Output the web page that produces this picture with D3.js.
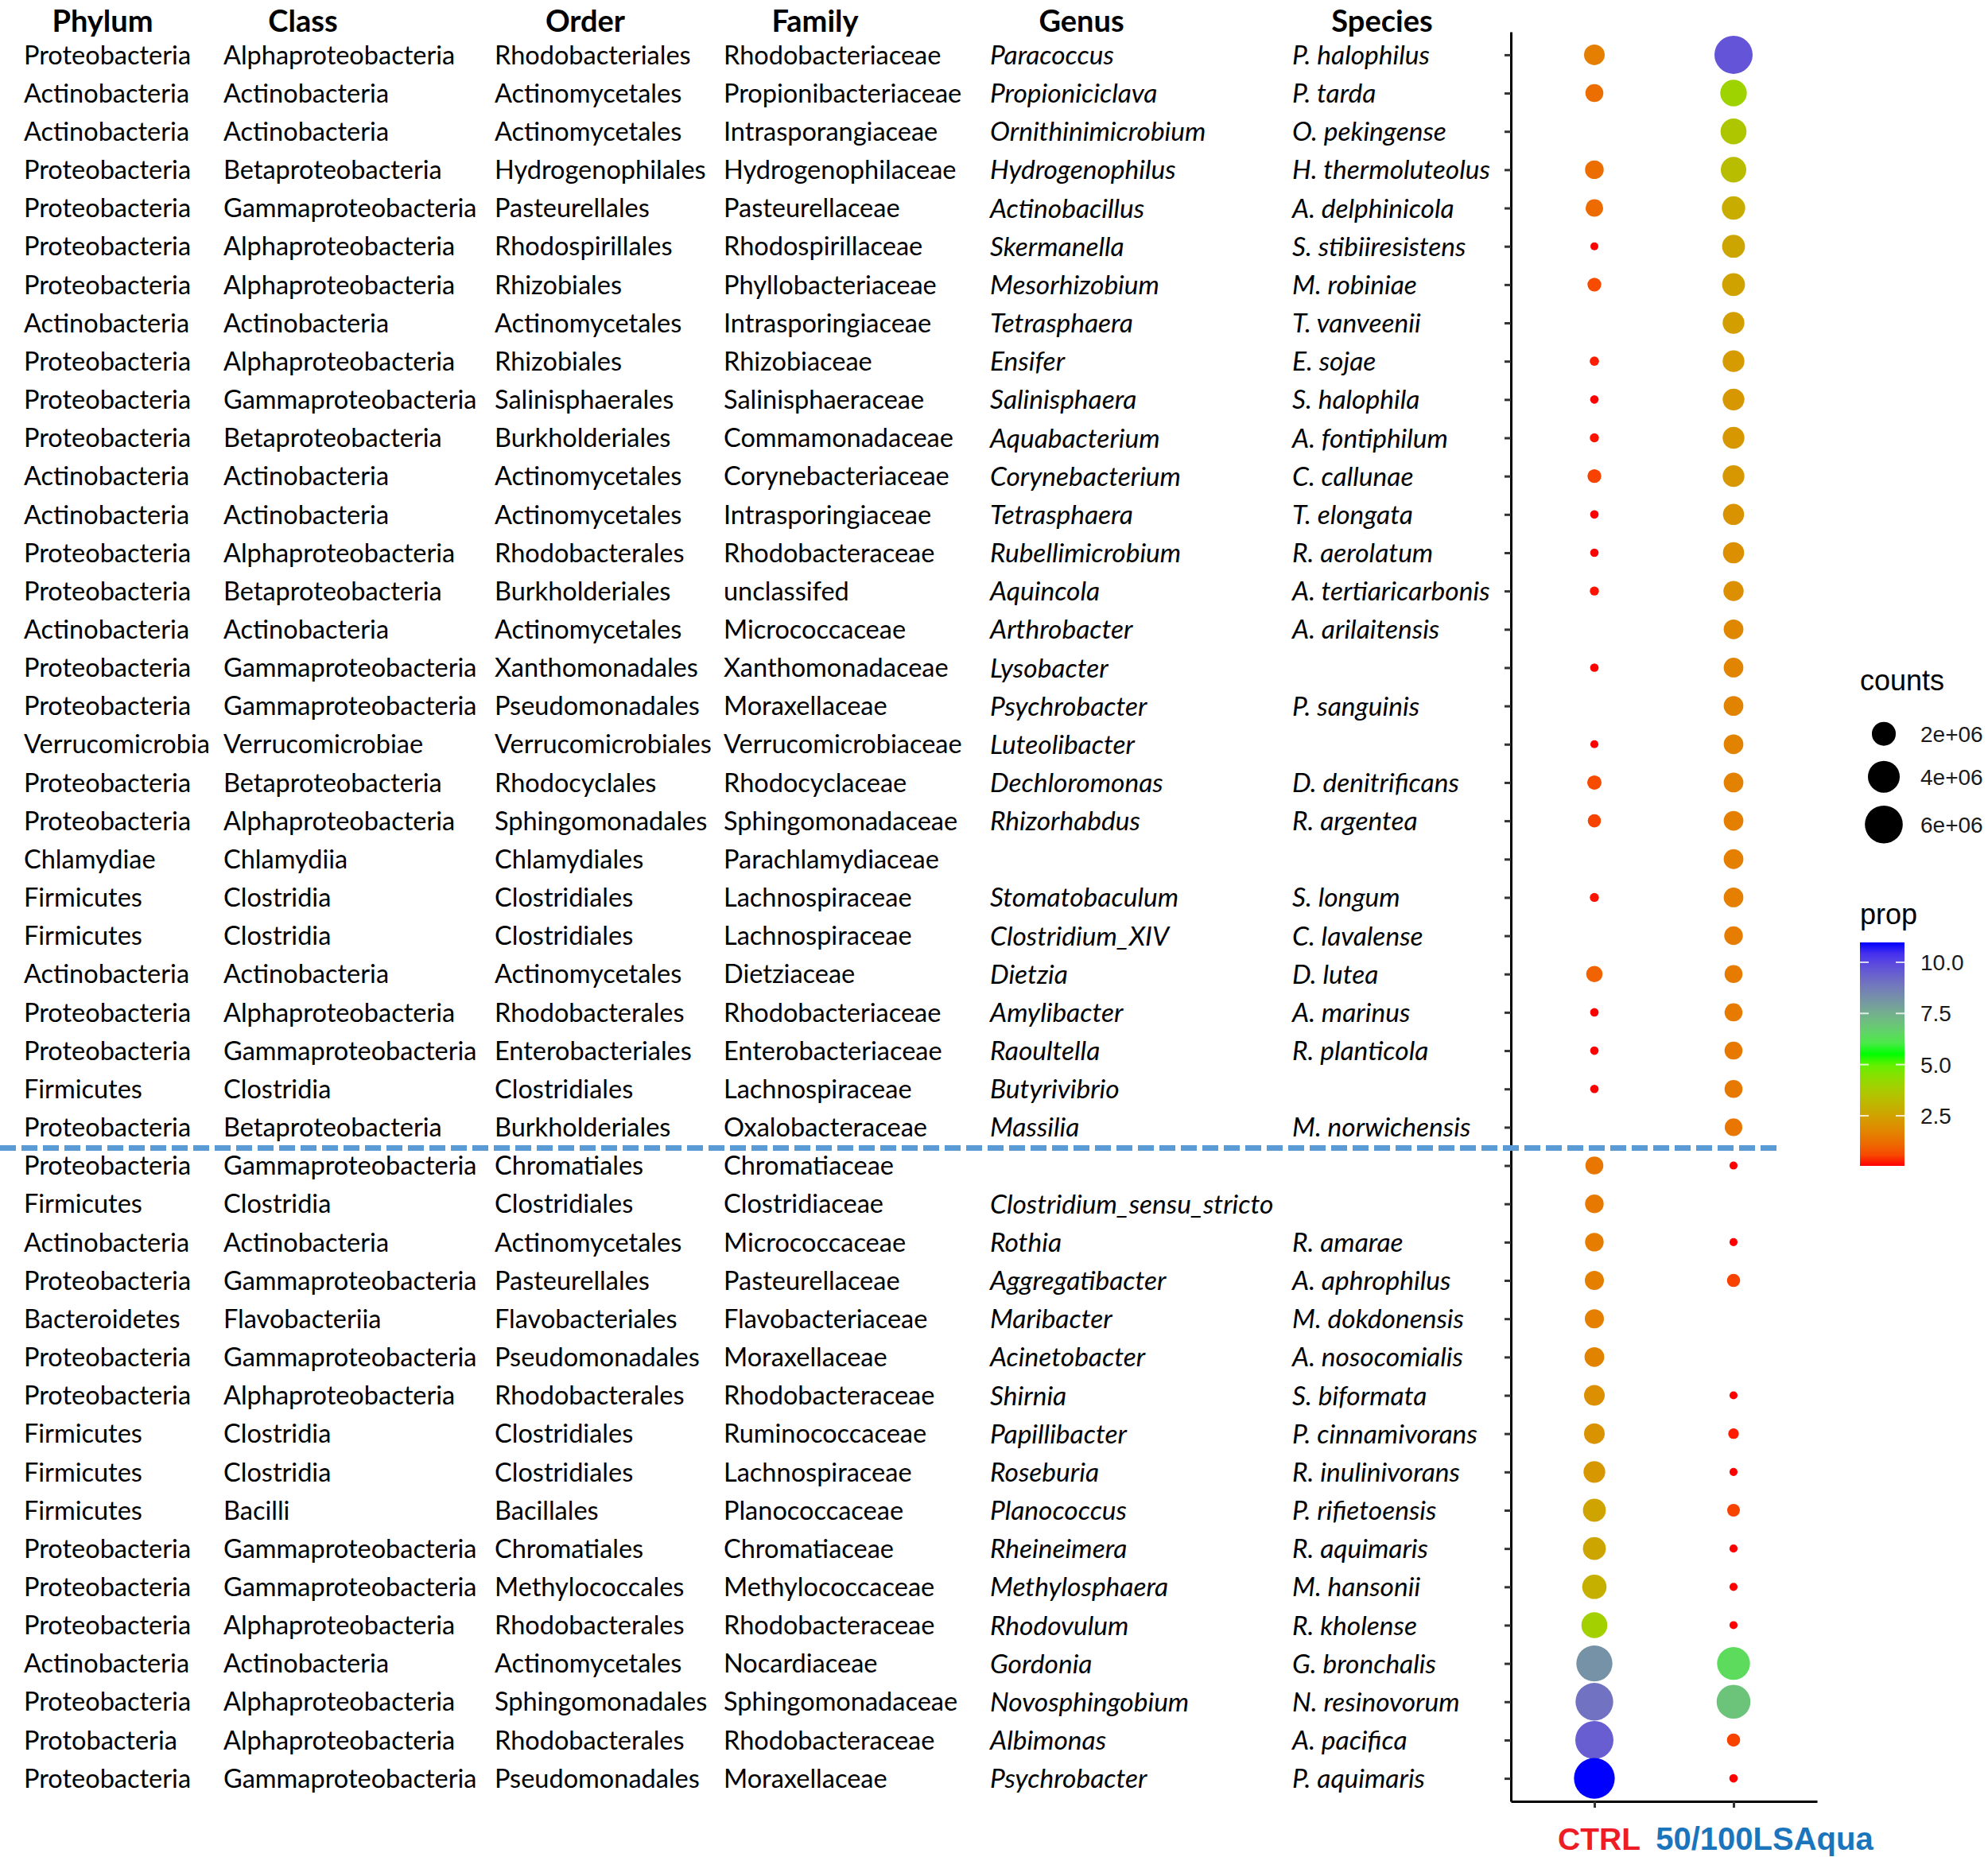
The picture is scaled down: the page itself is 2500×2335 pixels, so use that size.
<!DOCTYPE html>
<html><head><meta charset="utf-8">
<script src="https://cdn.jsdelivr.net/npm/d3@7"></script>
<style>body{margin:0;background:#fff} svg{display:block}</style>
</head><body><svg id="chart" width="2500" height="2335"></svg>
<script>
const headers = ["Phylum","Class","Order","Family","Genus","Species"];
const phylum = ["Proteobacteria","Actinobacteria","Actinobacteria","Proteobacteria","Proteobacteria","Proteobacteria","Proteobacteria","Actinobacteria","Proteobacteria","Proteobacteria","Proteobacteria","Actinobacteria","Actinobacteria","Proteobacteria","Proteobacteria","Actinobacteria","Proteobacteria","Proteobacteria","Verrucomicrobia","Proteobacteria","Proteobacteria","Chlamydiae","Firmicutes","Firmicutes","Actinobacteria","Proteobacteria","Proteobacteria","Firmicutes","Proteobacteria",
"Proteobacteria","Firmicutes","Actinobacteria","Proteobacteria","Bacteroidetes","Proteobacteria","Proteobacteria","Firmicutes","Firmicutes","Firmicutes","Proteobacteria","Proteobacteria","Proteobacteria","Actinobacteria","Proteobacteria","Protobacteria","Proteobacteria"];
const klass = ["Alphaproteobacteria","Actinobacteria","Actinobacteria","Betaproteobacteria","Gammaproteobacteria","Alphaproteobacteria","Alphaproteobacteria","Actinobacteria","Alphaproteobacteria","Gammaproteobacteria","Betaproteobacteria","Actinobacteria","Actinobacteria","Alphaproteobacteria","Betaproteobacteria","Actinobacteria","Gammaproteobacteria","Gammaproteobacteria","Verrucomicrobiae","Betaproteobacteria","Alphaproteobacteria","Chlamydiia","Clostridia","Clostridia","Actinobacteria","Alphaproteobacteria","Gammaproteobacteria","Clostridia","Betaproteobacteria",
"Gammaproteobacteria","Clostridia","Actinobacteria","Gammaproteobacteria","Flavobacteriia","Gammaproteobacteria","Alphaproteobacteria","Clostridia","Clostridia","Bacilli","Gammaproteobacteria","Gammaproteobacteria","Alphaproteobacteria","Actinobacteria","Alphaproteobacteria","Alphaproteobacteria","Gammaproteobacteria"];
const order = ["Rhodobacteriales","Actinomycetales","Actinomycetales","Hydrogenophilales","Pasteurellales","Rhodospirillales","Rhizobiales","Actinomycetales","Rhizobiales","Salinisphaerales","Burkholderiales","Actinomycetales","Actinomycetales","Rhodobacterales","Burkholderiales","Actinomycetales","Xanthomonadales","Pseudomonadales","Verrucomicrobiales","Rhodocyclales","Sphingomonadales","Chlamydiales","Clostridiales","Clostridiales","Actinomycetales","Rhodobacterales","Enterobacteriales","Clostridiales","Burkholderiales",
"Chromatiales","Clostridiales","Actinomycetales","Pasteurellales","Flavobacteriales","Pseudomonadales","Rhodobacterales","Clostridiales","Clostridiales","Bacillales","Chromatiales","Methylococcales","Rhodobacterales","Actinomycetales","Sphingomonadales","Rhodobacterales","Pseudomonadales"];
const family = ["Rhodobacteriaceae","Propionibacteriaceae","Intrasporangiaceae","Hydrogenophilaceae","Pasteurellaceae","Rhodospirillaceae","Phyllobacteriaceae","Intrasporingiaceae","Rhizobiaceae","Salinisphaeraceae","Commamonadaceae","Corynebacteriaceae","Intrasporingiaceae","Rhodobacteraceae","unclassifed","Micrococcaceae","Xanthomonadaceae","Moraxellaceae","Verrucomicrobiaceae","Rhodocyclaceae","Sphingomonadaceae","Parachlamydiaceae","Lachnospiraceae","Lachnospiraceae","Dietziaceae","Rhodobacteriaceae","Enterobacteriaceae","Lachnospiraceae","Oxalobacteraceae",
"Chromatiaceae","Clostridiaceae","Micrococcaceae","Pasteurellaceae","Flavobacteriaceae","Moraxellaceae","Rhodobacteraceae","Ruminococcaceae","Lachnospiraceae","Planococcaceae","Chromatiaceae","Methylococcaceae","Rhodobacteraceae","Nocardiaceae","Sphingomonadaceae","Rhodobacteraceae","Moraxellaceae"];
const genus = ["Paracoccus","Propioniciclava","Ornithinimicrobium","Hydrogenophilus","Actinobacillus","Skermanella","Mesorhizobium","Tetrasphaera","Ensifer","Salinisphaera","Aquabacterium","Corynebacterium","Tetrasphaera","Rubellimicrobium","Aquincola","Arthrobacter","Lysobacter","Psychrobacter","Luteolibacter","Dechloromonas","Rhizorhabdus","","Stomatobaculum","Clostridium_XIV","Dietzia","Amylibacter","Raoultella","Butyrivibrio","Massilia",
"","Clostridium_sensu_stricto","Rothia","Aggregatibacter","Maribacter","Acinetobacter","Shirnia","Papillibacter","Roseburia","Planococcus","Rheineimera","Methylosphaera","Rhodovulum","Gordonia","Novosphingobium","Albimonas","Psychrobacter"];
const species = ["P. halophilus","P. tarda","O. pekingense","H. thermoluteolus","A. delphinicola","S. stibiiresistens","M. robiniae","T. vanveenii","E. sojae","S. halophila","A. fontiphilum","C. callunae","T. elongata","R. aerolatum","A. tertiaricarbonis","A. arilaitensis","","P. sanguinis","","D. denitrificans","R. argentea","","S. longum","C. lavalense","D. lutea","A. marinus","R. planticola","","M. norwichensis",
"","","R. amarae","A. aphrophilus","M. dokdonensis","A. nosocomialis","S. biformata","P. cinnamivorans","R. inulinivorans","P. rifietoensis","R. aquimaris","M. hansonii","R. kholense","G. bronchalis","N. resinovorum","A. pacifica","P. aquimaris"];

const groups = ["CTRL","50/100LSAqua"];
// counts (millions) and prop (%) per row; null = absent
const ctrlCounts = [1.38,0.95,null,1.05,0.89,0.055,0.45,null,0.11,0.075,0.1,0.45,0.075,0.075,0.1,null,0.075,null,0.06,0.5,0.39,null,0.1,null,0.74,0.075,0.075,0.075,null,
0.95,1.05,1.05,1.12,1.12,1.22,1.38,1.38,1.58,1.8,1.8,2.1,2.45,5.37,5.93,6.1,7.1];
const ctrlProp = [1.6,1.2,null,1.2,1.15,0.05,0.6,null,0.15,0.05,0.1,0.5,0.05,0.05,0.1,null,0.05,null,0.05,0.6,0.5,null,0.1,null,1.0,0.05,0.05,0.05,null,
1.4,1.45,1.55,1.6,1.6,1.7,2.0,2.1,2.2,2.55,2.6,2.9,3.9,8.2,9.0,9.5,10.97];
const aquaCounts = [6.1,2.6,2.45,2.34,1.89,1.8,1.8,1.58,1.58,1.58,1.58,1.58,1.47,1.47,1.3,1.22,1.22,1.22,1.22,1.22,1.22,1.22,1.22,1.05,0.95,0.95,0.95,0.95,0.89,
0.06,null,0.06,0.39,null,null,0.06,0.19,0.06,0.35,0.06,0.06,0.06,4.34,4.63,0.39,0.075];
const aquaProp = [9.7,4.0,3.6,3.3,2.8,2.6,2.5,2.4,2.3,2.2,2.2,2.2,2.1,2.0,2.0,1.8,1.75,1.7,1.7,1.65,1.6,1.6,1.6,1.55,1.5,1.5,1.45,1.45,1.4,
0.05,null,0.05,0.5,null,null,0.05,0.15,0.05,0.5,0.05,0.05,0.05,6.4,7.0,0.5,0.05];
const countTicks = [2e6,4e6,6e6];
const propTicks = [2.5,5.0,7.5,10.0];

const svg = d3.select("#chart");
svg.append("rect").attr("width",2500).attr("height",2335).attr("fill","#fff");

const rows = d3.range(phylum.length);
const y = d3.scalePoint().domain(rows).range([40,2265]).padding(0.6);
const x = d3.scalePoint().domain(groups).range([1900,2285]).padding(0.6);
const r = d3.scalePow().exponent(0.5).domain([0,7.1e6]).range([3,25.65]);
const propMin = 0.05, propMax = 10.97;
const color = d3.scaleLinear().domain([propMin,(propMin+propMax)/2,propMax])
  .range(["#ff0000","#00ff00","#0000ff"]).interpolate(d3.interpolateLab);

// table
const tableFont = "Lato, 'Open Sans', sans-serif";
const colX = [30,281,622,910,1245,1625];
const headX = [129,381,736,1025,1360,1738];
const cols = [phylum,klass,order,family,genus,species];
const tbl = svg.append("g");
headers.forEach((h,i)=>{
  tbl.append("text").attr("x",headX[i]).attr("y",40).attr("text-anchor","middle")
    .attr("font-family",tableFont).attr("font-weight","bold").attr("font-size",38).attr("fill","#000").text(h);
});
cols.forEach((arr,ci)=>{
  tbl.selectAll(null).data(rows.filter(i=>arr[i])).join("text")
    .attr("x",colX[ci]).attr("y",i=>y(i)).attr("dy","0.36em")
    .attr("font-family",tableFont).attr("font-size",ci>=4?33.5:32.5)
    .attr("font-style",ci>=4?"italic":"normal").attr("fill","#000")
    .text(i=>arr[i]);
});

// axes
const gy = svg.append("g").attr("transform","translate(1900,0)")
  .call(d3.axisLeft(y).tickSize(8).tickSizeOuter(0).tickFormat(""));
const gx = svg.append("g").attr("transform","translate(0,2265)")
  .call(d3.axisBottom(x).tickSize(8).tickSizeOuter(0).tickFormat(""));
[gy,gx].forEach(g=>{
  g.select(".domain").attr("stroke","#000").attr("stroke-width",3);
  g.selectAll(".tick line").attr("stroke","#333").attr("stroke-width",3);
});

// points
const pts = [];
rows.forEach(i=>{
  if(ctrlCounts[i]!=null) pts.push({row:i,g:groups[0],c:ctrlCounts[i]*1e6,p:ctrlProp[i]});
  if(aquaCounts[i]!=null) pts.push({row:i,g:groups[1],c:aquaCounts[i]*1e6,p:aquaProp[i]});
});
svg.append("g").selectAll("circle").data(pts).join("circle")
  .attr("cx",d=>x(d.g)).attr("cy",d=>y(d.row)).attr("r",d=>r(d.c))
  .attr("fill",d=>color(d.p));

// x labels
svg.append("text").attr("x",x(groups[0])+6).attr("y",2326).attr("text-anchor","middle")
  .attr("font-family","'Liberation Sans', Arial, sans-serif").attr("font-weight","bold")
  .attr("font-size",39).attr("fill","#ee1c25").text(groups[0]);
svg.append("text").attr("x",x(groups[1])+39).attr("y",2326).attr("text-anchor","middle")
  .attr("font-family","'Liberation Sans', Arial, sans-serif").attr("font-weight","bold")
  .attr("font-size",40).attr("fill","#1b75bc").text(groups[1]);

// dashed separator
const sepY = (y(28)+y(29))/2 + 2;
svg.append("line").attr("x1",0).attr("x2",2240).attr("y1",sepY).attr("y2",sepY)
  .attr("stroke","#5b9bd5").attr("stroke-width",7).attr("stroke-dasharray","20 7");

// legend: counts
const legFont = "'Liberation Sans', Arial, sans-serif";
const lg = svg.append("g");
lg.append("text").attr("x",2339).attr("y",868).attr("font-family",legFont).attr("font-size",36).attr("fill","#000").text("counts");
const keyY = [922.7,976.7,1036.7];
countTicks.forEach((c,i)=>{
  lg.append("circle").attr("cx",2369).attr("cy",keyY[i]).attr("r",r(c)).attr("fill","#000");
  lg.append("text").attr("x",2415).attr("y",keyY[i]+10).attr("font-family",legFont).attr("font-size",28).attr("fill","#1a1a1a").text(d3.format(".0e")(c).replace("e+","e+0"));
});

// legend: prop colorbar
lg.append("text").attr("x",2339).attr("y",1162).attr("font-family",legFont).attr("font-size",36).attr("fill","#000").text("prop");
const barTop = 1185, barBot = 1466, barX = 2339, barW = 56;
const pv = d3.scaleLinear().domain([propMin,propMax]).range([barBot,barTop]);
const defs = svg.append("defs");
const grad = defs.append("linearGradient").attr("id","propGrad").attr("x1",0).attr("y1",1).attr("x2",0).attr("y2",0);
d3.range(0,1.0001,0.05).forEach(t=>{
  grad.append("stop").attr("offset",t).attr("stop-color",color(propMin+t*(propMax-propMin)));
});
lg.append("rect").attr("x",barX).attr("y",barTop).attr("width",barW).attr("height",barBot-barTop).attr("fill","url(#propGrad)");
propTicks.forEach(v=>{
  const yy = pv(v);
  lg.append("line").attr("x1",barX).attr("x2",barX+11).attr("y1",yy).attr("y2",yy).attr("stroke","#fff").attr("stroke-width",2).attr("opacity",0.8);
  lg.append("line").attr("x1",barX+barW-11).attr("x2",barX+barW).attr("y1",yy).attr("y2",yy).attr("stroke","#fff").attr("stroke-width",2).attr("opacity",0.8);
  lg.append("text").attr("x",2415).attr("y",yy+10).attr("font-family",legFont).attr("font-size",28).attr("fill","#1a1a1a").text(d3.format(".1f")(v));
});
</script></body></html>
